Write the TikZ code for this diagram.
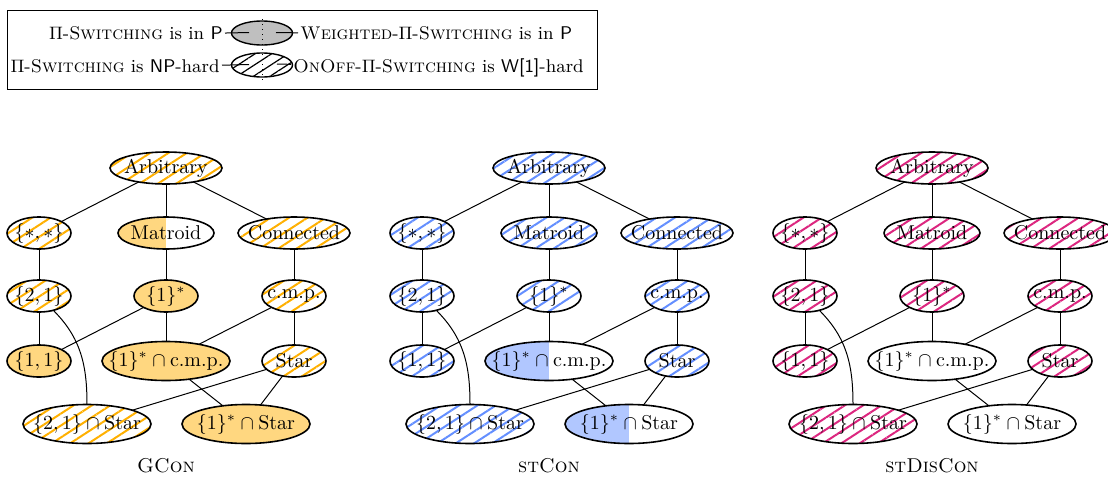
\documentclass[tikz,border=0pt]{standalone}
\usetikzlibrary{shapes.geometric,patterns.meta}
\definecolor{cO}{HTML}{FFB000}
\definecolor{cB}{HTML}{648FFF}
\definecolor{cM}{HTML}{DC267F}
\tikzset{
  cls/.style={ellipse, draw, line width=0.8pt, inner xsep=-60pt, inner ysep=-20pt,
    outer sep=0pt, minimum width=32pt, minimum height=16pt},
  wM/.style={minimum width=48pt},
  wA/.style={minimum width=56pt},
  wI/.style={minimum width=64pt, minimum height=19.5pt},
  hatch/.style={pattern={Lines[angle=33,distance=5pt,line width=1pt]}, pattern color=#1},
  full/.style={fill=#1},
  half/.style={path picture={\fill[#1] (path picture bounding box.south west) rectangle (path picture bounding box.north);}},
  plain/.style={},
  conn/.style={line width=0.5pt},
  lgtext/.style={inner sep=1pt, text height=6.5pt, text depth=2pt, font=\fontsize{9.2}{11}\selectfont},
}
\newcommand\classgraph[2]{%
  \node[cls,wA,sA] (#1-A) at (166,-168) {Arbitrary};
  \node[cls,sSS] (#1-SS) at (39,-233) {$\{*,*\}$};
  \node[cls,wM,sM] (#1-M) at (166,-233) {Matroid};
  \node[cls,wA,sC] (#1-C) at (294,-233) {Connected};
  \node[cls,sTO] (#1-TO) at (39,-296) {$\{2,1\}$};
  \node[cls,sOS] (#1-OS) at (166,-296) {$\{1\}^*$};
  \node[cls,sCMP] (#1-CMP) at (294,-296) {c.m.p.};
  \node[cls,sOO] (#1-OO) at (39,-361) {$\{1,1\}$};
  \node[cls,wI,sOC] (#1-OC) at (166,-361) {$\{1\}^*\cap\mbox{c.m.p.}$};
  \node[cls,sST] (#1-ST) at (294,-361) {Star};
  \node[cls,wI,sTS] (#1-TS) at (87,-424) {$\{2,1\}\cap\mbox{Star}$};
  \node[cls,wI,sOSt] (#1-OSt) at (246,-424) {$\{1\}^*\cap\mbox{Star}$};
  \node (#1-lab) at (166,-466) {#2};
  \draw[conn] (#1-A) -- (#1-SS);
  \draw[conn] (#1-A) -- (#1-M);
  \draw[conn] (#1-A) -- (#1-C);
  \draw[conn] (#1-SS) -- (#1-TO);
  \draw[conn] (#1-M) -- (#1-OS);
  \draw[conn] (#1-C) -- (#1-CMP);
  \draw[conn] (#1-TO) -- (#1-OO);
  \draw[conn] (#1-OS) -- (#1-OO);
  \draw[conn] (#1-OS) -- (#1-OC);
  \draw[conn] (#1-CMP) -- (#1-OC);
  \draw[conn] (#1-CMP) -- (#1-ST);
  \draw[conn] (#1-TO) to[out=-45,in=90] (#1-TS);
  \draw[conn] (#1-ST) -- (#1-TS);
  \draw[conn] (#1-OC) -- (#1-OSt);
  \draw[conn] (#1-ST) -- (#1-OSt);
}
\begin{document}
\begin{tikzpicture}[x=0.5pt,y=0.5pt]
\useasboundingbox (0,0) rectangle (1108,-477);
% legend
\draw[line width=0.5pt] (7,-10) rectangle (597,-89);
\node[ellipse, draw, line width=0.7pt, fill=black!25, minimum width=30.5pt, minimum height=12pt, inner sep=0pt] (lgP) at (262,-33) {};
\node[ellipse, draw, line width=0.7pt, pattern={Lines[angle=33,distance=4.5pt,line width=0.6pt]}, pattern color=black, minimum width=30.5pt, minimum height=12pt, inner sep=0pt] (lgH) at (262,-65) {};
\draw[dotted, line width=0.5pt] (262,-19) -- (262,-81);
\coordinate (lc1) at (249,-32.5);
\coordinate (rc1) at (276,-32.5);
\coordinate (lc2) at (249,-64.5);
\coordinate (rc2) at (277,-64);
\node[lgtext, anchor=east] (lt1) at (225,-35) {$\Pi$-\textsc{Switching} is in \textsf{P}};
\node[lgtext, anchor=west] (rt1) at (298,-35) {\textsc{Weighted}-$\Pi$-\textsc{Switching} is in \textsf{P}};
\node[lgtext, anchor=east] (lt2) at (222,-68) {$\Pi$-\textsc{Switching} is \textsf{NP}-hard};
\node[lgtext, anchor=west] (rt2) at (291,-68) {\textsc{OnOff}-$\Pi$-\textsc{Switching} is \textsf{W[1]}-hard};
\draw[conn] (lt1) -- (lc1);
\draw[conn] (rt1) -- (rc1);
\draw[conn] (lt2) -- (lc2);
\draw[conn] (rt2) -- (rc2);
% GCon
\begin{scope}[sA/.style={hatch=cO}, sSS/.style={hatch=cO}, sM/.style={half=cO!50},
  sC/.style={hatch=cO}, sTO/.style={hatch=cO}, sOS/.style={full=cO!50}, sCMP/.style={hatch=cO},
  sOO/.style={full=cO!50}, sOC/.style={full=cO!50}, sST/.style={hatch=cO},
  sTS/.style={hatch=cO}, sOSt/.style={full=cO!50}]
\classgraph{g1}{\textsc{GCon}}
\end{scope}
% stCon
\begin{scope}[xshift=191.5pt, sA/.style={hatch=cB}, sSS/.style={hatch=cB}, sM/.style={hatch=cB},
  sC/.style={hatch=cB}, sTO/.style={hatch=cB}, sOS/.style={hatch=cB}, sCMP/.style={hatch=cB},
  sOO/.style={hatch=cB}, sOC/.style={half=cB!50}, sST/.style={hatch=cB},
  sTS/.style={hatch=cB}, sOSt/.style={half=cB!50}]
\classgraph{g2}{\textsc{stCon}}
\end{scope}
% stDisCon
\begin{scope}[xshift=383pt, sA/.style={hatch=cM}, sSS/.style={hatch=cM}, sM/.style={hatch=cM},
  sC/.style={hatch=cM}, sTO/.style={hatch=cM}, sOS/.style={hatch=cM}, sCMP/.style={hatch=cM},
  sOO/.style={hatch=cM}, sOC/.style={plain}, sST/.style={hatch=cM},
  sTS/.style={hatch=cM}, sOSt/.style={plain}]
\classgraph{g3}{\textsc{stDisCon}}
\end{scope}
\end{tikzpicture}
\end{document}
